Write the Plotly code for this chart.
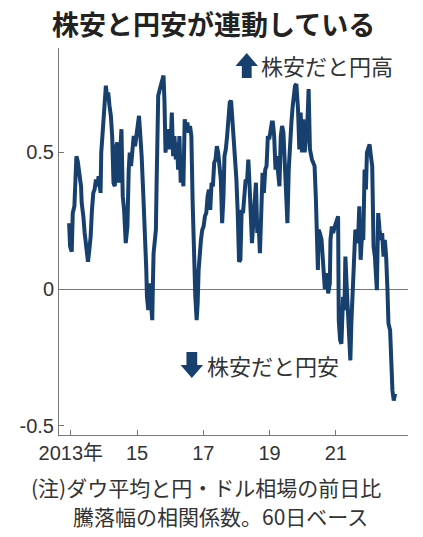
import plotly.graph_objects as go

# --- data ---
years = [
    2012.95, 2012.98, 2013.03, 2013.06, 2013.11, 2013.13, 2013.17, 2013.21, 2013.25, 2013.28,
    2013.31, 2013.33, 2013.36, 2013.38, 2013.42, 2013.47, 2013.52, 2013.56, 2013.60, 2013.64,
    2013.68, 2013.72, 2013.76, 2013.80, 2013.84, 2013.90, 2013.92, 2013.97, 2014.02, 2014.06,
    2014.09, 2014.13, 2014.17, 2014.21, 2014.25, 2014.29, 2014.33, 2014.37, 2014.41, 2014.45,
    2014.49, 2014.53, 2014.57, 2014.61, 2014.66, 2014.71, 2014.75, 2014.78, 2014.82, 2014.86,
    2014.90, 2014.94, 2014.98, 2015.02, 2015.06, 2015.10, 2015.14, 2015.20, 2015.25, 2015.28,
    2015.30, 2015.34, 2015.38, 2015.42, 2015.46, 2015.48, 2015.50, 2015.54, 2015.57, 2015.59,
    2015.61, 2015.64, 2015.69, 2015.73, 2015.77, 2015.80, 2015.83, 2015.86, 2015.89, 2015.93,
    2015.97, 2016.01, 2016.05, 2016.09, 2016.13, 2016.17, 2016.21, 2016.24, 2016.28, 2016.32,
    2016.36, 2016.40, 2016.44, 2016.48, 2016.52, 2016.56, 2016.60, 2016.64, 2016.68, 2016.72,
    2016.76, 2016.80, 2016.83, 2016.86, 2016.90, 2016.93, 2016.97, 2017.01, 2017.05, 2017.09,
    2017.13, 2017.17, 2017.21, 2017.25, 2017.29, 2017.33, 2017.37, 2017.41, 2017.45, 2017.49,
    2017.53, 2017.57, 2017.61, 2017.64, 2017.68, 2017.72, 2017.76, 2017.80, 2017.84, 2017.88,
    2017.92, 2017.96, 2018.00, 2018.04, 2018.08, 2018.12, 2018.16, 2018.20, 2018.24, 2018.28,
    2018.32, 2018.36, 2018.39, 2018.43, 2018.47, 2018.51, 2018.55, 2018.59, 2018.63, 2018.67,
    2018.71, 2018.75, 2018.79, 2018.83, 2018.87, 2018.91, 2018.95, 2018.99, 2019.03, 2019.07,
    2019.10, 2019.14, 2019.18, 2019.22, 2019.26, 2019.30, 2019.34, 2019.38, 2019.42, 2019.46,
    2019.50, 2019.54, 2019.58, 2019.62, 2019.66, 2019.70, 2019.74, 2019.77, 2019.81, 2019.86,
    2019.90, 2019.94, 2019.98, 2020.02, 2020.06, 2020.10, 2020.14, 2020.18, 2020.22, 2020.28,
    2020.36, 2020.40, 2020.43, 2020.46, 2020.48, 2020.52, 2020.57, 2020.62, 2020.67, 2020.72,
    2020.77, 2020.82, 2020.84, 2020.88, 2020.92, 2020.97, 2021.02, 2021.07, 2021.09, 2021.13,
    2021.17, 2021.22, 2021.26, 2021.29, 2021.33, 2021.37, 2021.41, 2021.44, 2021.47, 2021.51,
    2021.55, 2021.59, 2021.63, 2021.67, 2021.71, 2021.75, 2021.79, 2021.83, 2021.87, 2021.91,
    2021.94, 2021.98, 2022.02, 2022.06, 2022.10, 2022.14, 2022.18, 2022.24, 2022.28, 2022.32,
    2022.36, 2022.40, 2022.44, 2022.48, 2022.52, 2022.56, 2022.59, 2022.64, 2022.67, 2022.71,
    2022.75, 2022.79,
]
corr = [
    0.241, 0.156, 0.137, 0.278, 0.303, 0.401, 0.486, 0.468, 0.437, 0.401,
    0.376, 0.315, 0.290, 0.266, 0.205, 0.143, 0.100, 0.143, 0.192, 0.290,
    0.352, 0.364, 0.401, 0.376, 0.413, 0.352, 0.499, 0.585, 0.658, 0.744,
    0.707, 0.719, 0.670, 0.634, 0.560, 0.389, 0.376, 0.523, 0.536, 0.389,
    0.499, 0.585, 0.339, 0.290, 0.168, 0.229, 0.437, 0.499, 0.450, 0.499,
    0.560, 0.523, 0.572, 0.597, 0.634, 0.560, 0.486, 0.315, 0.192, 0.070,
    -0.028, -0.077, 0.021, -0.053, -0.114, 0.021, 0.131, 0.180, 0.217, 0.376,
    0.560, 0.707, 0.732, 0.756, 0.768, 0.781, 0.683, 0.499, 0.560, 0.511,
    0.585, 0.511, 0.646, 0.486, 0.560, 0.474, 0.536, 0.437, 0.560, 0.389,
    0.462, 0.376, 0.621, 0.585, 0.609, 0.572, 0.597, 0.560, 0.315, 0.070,
    -0.028, -0.114, -0.053, 0.070, 0.156, 0.180, 0.217, 0.229, 0.266, 0.278,
    0.339, 0.364, 0.290, 0.389, 0.376, 0.462, 0.474, 0.523, 0.499, 0.462,
    0.400, 0.241, 0.339, 0.486, 0.511, 0.560, 0.609, 0.683, 0.689, 0.621,
    0.536, 0.486, 0.401, 0.278, 0.100, 0.107, 0.290, 0.278, 0.339, 0.401,
    0.389, 0.474, 0.401, 0.315, 0.168, 0.241, 0.303, 0.389, 0.205, 0.241,
    0.131, 0.364, 0.425, 0.352, 0.437, 0.450, 0.560, 0.548, 0.585, 0.609,
    0.609, 0.560, 0.437, 0.486, 0.425, 0.376, 0.560, 0.597, 0.572, 0.437,
    0.315, 0.241, 0.437, 0.560, 0.609, 0.670, 0.707, 0.744, 0.750, 0.658,
    0.511, 0.646, 0.500, 0.621, 0.500, 0.548, 0.597, 0.732, 0.511, 0.474,
    0.450, 0.327, 0.205, 0.070, 0.217, 0.205, 0.180, 0.096, 0.000, 0.058,
    -0.016, 0.021, 0.180, 0.229, 0.205, 0.229, 0.254, 0.266, -0.114, -0.187,
    -0.200, -0.028, -0.077, 0.119, 0.008, -0.077, -0.151, -0.261, -0.126, 0.008,
    0.119, 0.217, 0.205, 0.168, 0.303, 0.107, 0.192, 0.180, 0.437, 0.364,
    0.499, 0.523, 0.529, 0.486, 0.450, 0.156, 0.119, -0.004, 0.278, 0.217,
    0.180, 0.205, 0.119, 0.180, 0.119, -0.004, -0.126, -0.151, -0.273, -0.371,
    -0.408, -0.383,
]

tick_years = [2013, 2015, 2017, 2019, 2021]
tick_year_labels = ["2013年", "15", "17", "19", "21"]
tick_vals = [-0.5, 0, 0.5]
tick_val_labels = ["-0.5", "0", "0.5"]

# the page body keeps its default 8px margin, so the figure is drawn 8px in
OFF = 8
W, H = 423 - OFF, 537 - OFF
M_L, M_R, M_T, M_B = 52 - OFF, 15, 48 - OFF, 102
PW, PH = W - M_L - M_R, H - M_T - M_B

LINE_COLOR = "#17406f"
AXIS_COLOR = "#777777"
TEXT_COLOR = "#333333"
NUM_FONT = "Liberation Sans Narrow, Liberation Sans, Noto Sans CJK JP"
JP_FONT = "Noto Sans CJK JP"


def px(x, y):
    """position on the page (reference pixels) -> paper coords"""
    x, y = x - OFF, y - OFF
    return (x - M_L) / PW, (H - M_B - y) / PH


def arrow_path(points):
    pts = [px(x, y) for x, y in points]
    return "M " + " L ".join(f"{a:.4f},{b:.4f}" for a, b in pts) + " Z"


fig = go.Figure()

fig.add_trace(
    go.Scatter(
        x=years,
        y=corr,
        mode="lines",
        line=dict(color=LINE_COLOR, width=4),
        hoverinfo="skip",
        showlegend=False,
    )
)

# block arrows next to the two notes
up_arrow = [(243.5, 53), (255, 66), (248.5, 66), (248.5, 78), (238.5, 78), (238.5, 66), (232, 66)]
down_arrow = [(182, 352), (193, 352), (193, 365), (199, 365), (187.5, 378), (176, 365), (182, 365)]
for shape_pts in (up_arrow, down_arrow):
    fig.add_shape(
        type="path",
        path=arrow_path(shape_pts),
        xref="paper", yref="paper",
        fillcolor=LINE_COLOR,
        line=dict(width=0),
    )

# title, drawn as an annotation so it sits where the reference has it
tx, ty = px(210, 24)
fig.add_annotation(
    text="<b>株安と円安が連動している</b>", xref="paper", yref="paper",
    x=tx, y=ty, xanchor="center", yanchor="middle", showarrow=False,
    font=dict(family=JP_FONT, size=27, color="#222222"),
)

notes = [
    ("株安だと円高", 256, 65),
    ("株安だと円安", 201, 365),
]
for txt, x0, y0 in notes:
    ax, ay = px(x0, y0)
    fig.add_annotation(
        text=txt, xref="paper", yref="paper", x=ax, y=ay,
        xanchor="left", yanchor="middle", showarrow=False,
        font=dict(family=JP_FONT, size=22, color=TEXT_COLOR),
    )

footnotes = [
    ("(注)ダウ平均と円・ドル相場の前日比", 21, 487),
    ("騰落幅の相関係数。60日ベース", 64, 516),
]
for txt, x0, y0 in footnotes:
    ax, ay = px(x0, y0)
    fig.add_annotation(
        text=txt, xref="paper", yref="paper", x=ax, y=ay,
        xanchor="left", yanchor="middle", showarrow=False,
        font=dict(family=JP_FONT, size=21, color=TEXT_COLOR),
    )

fig.update_layout(
    width=W,
    height=H,
    margin=dict(l=M_L, r=M_R, t=M_T, b=M_B),
    paper_bgcolor="white",
    plot_bgcolor="white",
    showlegend=False,
)

fig.update_xaxes(
    range=[2012.645, 2023.18],
    tickvals=tick_years,
    ticktext=tick_year_labels,
    ticks="inside",
    ticklen=5,
    tickcolor=AXIS_COLOR,
    showline=True,
    linecolor=AXIS_COLOR,
    linewidth=1,
    showgrid=False,
    zeroline=False,
    tickfont=dict(family=NUM_FONT, size=20, color=TEXT_COLOR),
)
fig.update_yaxes(
    range=[-0.534, 0.882],
    tickvals=tick_vals,
    ticktext=tick_val_labels,
    ticks="inside",
    ticklen=5,
    tickcolor=AXIS_COLOR,
    showline=True,
    linecolor=AXIS_COLOR,
    linewidth=1,
    showgrid=False,
    zeroline=True,
    zerolinecolor=AXIS_COLOR,
    zerolinewidth=1,
    tickfont=dict(family=NUM_FONT, size=20, color=TEXT_COLOR),
)

fig.write_html("out.html")
